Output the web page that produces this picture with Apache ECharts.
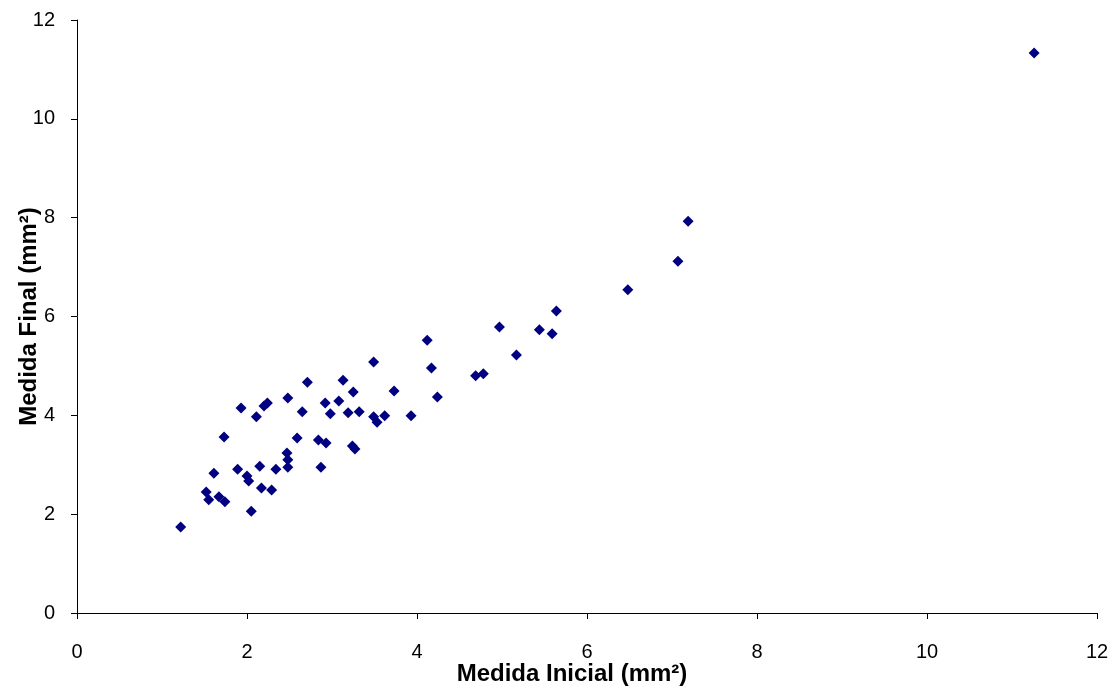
<!DOCTYPE html>
<html>
<head>
<meta charset="utf-8">
<script src="https://cdn.jsdelivr.net/npm/echarts@6/dist/echarts.min.js"></script>
<style>html,body{margin:0;padding:0;background:#fff}#c{width:1112px;height:689px}</style>
</head>
<body>
<div id="c"></div>
<script>
const xTitle = 'Medida Inicial (mm²)';
const yTitle = 'Medida Final (mm²)';
const medidaInicial = [1.22,1.52,1.55,1.61,1.67,1.74,1.73,1.93,1.89,2.00,2.02,2.05,2.11,2.15,2.17,2.20,2.24,2.29,2.34,2.48,2.47,2.48,2.48,2.59,2.65,2.71,2.84,2.87,2.93,2.92,2.98,3.08,3.13,3.19,3.25,3.24,3.27,3.32,3.49,3.49,3.53,3.62,3.73,3.93,4.12,4.17,4.24,4.69,4.78,4.97,5.17,5.44,5.59,5.64,6.48,7.07,7.19,11.26];
const medidaFinal   = [1.74,2.45,2.29,2.83,2.35,2.25,3.56,4.15,2.91,2.77,2.67,2.06,3.97,2.97,2.53,4.19,4.25,2.49,2.91,4.35,3.24,3.10,2.95,3.54,4.07,4.67,3.50,2.95,3.44,4.25,4.03,4.29,4.71,4.05,4.47,3.38,3.32,4.07,5.08,3.97,3.86,3.99,4.49,3.99,5.52,4.96,4.37,4.80,4.84,5.79,5.22,5.73,5.65,6.11,6.54,7.12,7.93,11.33];
const points = medidaInicial.map((v, i) => [v, medidaFinal[i]]);

const chart = echarts.init(document.getElementById('c'), null, {renderer: 'canvas'});
const font = '"Liberation Sans", Arial, sans-serif';
chart.setOption({
  animation: false,
  backgroundColor: '#ffffff',
  grid: {left: 77, right: 15, top: 20, bottom: 76, containLabel: false, outerBoundsMode: 'none'},
  xAxis: {
    type: 'value', min: 0, max: 12, interval: 2,
    name: xTitle, nameLocation: 'middle', nameGap: 49, nameMoveOverlap: false,
    nameTextStyle: {fontFamily: font, fontSize: 24, fontWeight: 'bold', color: '#000', padding: [0, 30, 0, 0]},
    axisLine: {show: true, onZero: false, lineStyle: {color: '#000', width: 1}},
    axisTick: {show: true, inside: false, length: 6, lineStyle: {color: '#000'}},
    axisLabel: {fontFamily: font, fontSize: 20, color: '#000', margin: 29},
    splitLine: {show: false}
  },
  yAxis: {
    type: 'value', min: 0, max: 12, interval: 2,
    name: yTitle, nameLocation: 'middle', nameGap: 36, nameRotate: 90, nameMoveOverlap: false,
    nameTextStyle: {fontFamily: font, fontSize: 24, fontWeight: 'bold', color: '#000'},
    axisLine: {show: true, onZero: false, lineStyle: {color: '#000', width: 1}},
    axisTick: {show: true, inside: false, length: 6, lineStyle: {color: '#000'}},
    axisLabel: {fontFamily: font, fontSize: 20, color: '#000', margin: 22},
    splitLine: {show: false}
  },
  series: [{
    type: 'scatter',
    data: points,
    symbol: 'diamond',
    symbolSize: [11, 11],
    itemStyle: {color: '#000080', opacity: 1}
  }]
});
</script>
</body>
</html>
